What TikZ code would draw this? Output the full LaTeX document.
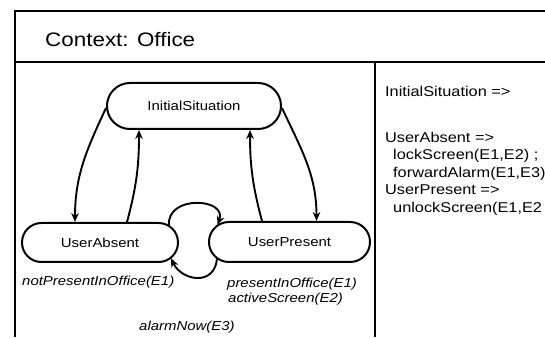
\documentclass[tikz,border=0pt]{standalone}
\usepackage{fontspec}
\setmainfont{Liberation Sans}[FakeStretch=1.15]
\usetikzlibrary{arrows.meta}
\tikzset{
  frame/.style={line width=2.2pt},
  state/.style={draw, line width=2pt, inner sep=0pt, font=\fontsize{13}{15}\selectfont},
  trans/.style={line width=1.9pt, -{Stealth[length=9pt,width=7.5pt]}},
  evlabel/.style={anchor=base west, inner sep=0pt, font=\fontsize{13}{15}\selectfont\itshape},
  rule/.style={anchor=base west, inner sep=0pt, font=\fontsize{14.2}{16}\selectfont},
}
\begin{document}
\begin{tikzpicture}[x=1pt,y=1pt]
\useasboundingbox (0,0) rectangle (545,337);
% frame
\coordinate (ftl) at (15,326);
\coordinate (fbl) at (15,0);
\coordinate (ftr) at (545,326);
\coordinate (hl) at (15,275);
\coordinate (hr) at (545,275);
\coordinate (dt) at (375,275);
\coordinate (db) at (375,0);
\draw[frame] (fbl) -- (ftl) -- (ftr);
\draw[frame] (hl) -- (hr);
\draw[frame] (dt) -- (db);
\node[anchor=base west, inner sep=0pt, font=\fontsize{19.5}{22}\selectfont] (title) at (45,290.3) {Context: Office};
% states
\node[state, minimum width=174pt, minimum height=46pt, rounded corners=22.9pt] (is) at (194,231) {InitialSituation};
\node[state, minimum width=156pt, minimum height=39pt, rounded corners=19.4pt] (ua) at (100,94.5) {UserAbsent};
\node[state, minimum width=161pt, minimum height=40pt, rounded corners=19.9pt] (up) at (289.5,95) {UserPresent};
% transitions
\draw[trans] ([yshift=-2pt]is.west) to[out=-115, in=90] ([xshift=-25pt]ua.north);
\draw[trans] ([xshift=27pt]ua.north) to[out=75, in=-90] ([xshift=-55pt]is.south);
\draw[trans] ([yshift=-2pt]is.east) to[out=-65, in=90] ([xshift=27pt]up.north);
\draw[trans] ([xshift=-27.5pt]up.north) to[out=105, in=-90] ([xshift=56pt]is.south);
\draw[trans] ([shift={(-10pt,17pt)}]ua.east) .. controls +(95:31) and +(70:29) .. ([shift={(9.5pt,17pt)}]up.west);
\draw[trans] ([shift={(9pt,-16.7pt)}]up.west) .. controls +(-95:28) and +(-65:25) .. ([shift={(-8pt,-15.7pt)}]ua.east);
% labels
\node[evlabel] (l1) at (22,52) {notPresentInOffice(E1)};
\node[evlabel] (l2) at (227,50) {presentInOffice(E1)};
\node[evlabel] (l3) at (228,35) {activeScreen(E2)};
\node[evlabel] (l4) at (139,7) {alarmNow(E3)};
% rules
\node[rule] (r1) at (385,240.3) {InitialSituation =>};
\node[rule] (r2) at (385,194) {UserAbsent =>};
\node[rule] (r3) at (393,177) {lockScreen(E1,E2) ;};
\node[rule] (r4) at (393,159) {forwardAlarm(E1,E3)};
\node[rule] (r5) at (385,142) {UserPresent =>};
\node[rule] (r6) at (393,124) {unlockScreen(E1,E2};
\end{tikzpicture}
\end{document}
